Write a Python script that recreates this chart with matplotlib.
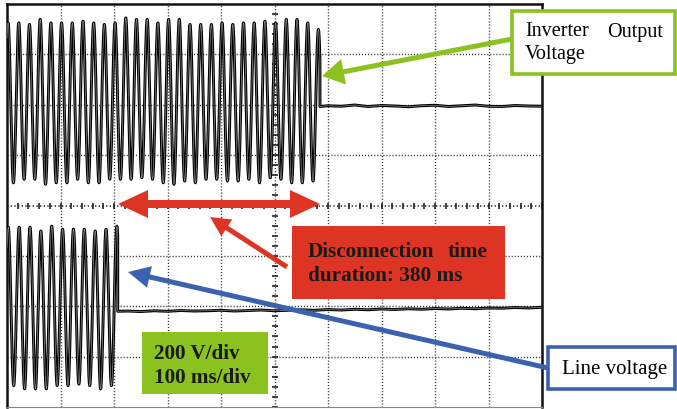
import numpy as np
import matplotlib.pyplot as plt
from matplotlib.patches import Rectangle

# scope screen: 10 div x 100 ms, 8 div x 200 V
time_div = 100
volt_div = 200

# upper trace: inverter output voltage, peak values (V) read per cycle
inv_offset = 400
inv_first_peak = 2.0
inv_period = 20.0
inv_pos_peaks = [325, 325, 319, 339, 325, 325, 325, 332, 325, 319, 325, 345, 339, 339, 325,
                 339, 339, 319, 319, 319, 325, 319, 325, 325, 332, 325, 339, 339, 325, 299]
inv_neg_peaks = [310, 296, 296, 316, 310, 310, 296, 310, 310, 296, 296, 296, 290, 296, 310,
                 316, 303, 310, 296, 296, 303, 303, 296, 310, 290, 296, 310, 310, 303]
inv_cut = 585
inv_rest_t = [585, 600, 625, 650, 675, 700, 725, 750, 775, 800, 825, 850, 875, 900, 925, 950, 975, 1000]
inv_rest_v = [393, 396, 394, 399, 393, 397, 395, 392, 396, 398, 393, 396, 399, 394, 393, 397, 395, 394]

# lower trace: line voltage
line_offset = -405
line_first_peak = 2.4
line_period = 20.3
line_pos_peaks = [319, 319, 319, 304, 323, 311, 311, 311, 304, 311, 323]
line_neg_peaks = [310, 323, 323, 323, 310, 310, 304, 310, 323, 310]
line_cut = 207
line_rest_t = [207, 225, 250, 275, 300, 325, 350, 375, 400, 425, 450, 475, 500, 525, 550, 575, 600,
               625, 650, 675, 700, 725, 750, 775, 800, 825, 850, 875, 900, 925, 950, 975, 1000]
line_rest_v = [-420, -419, -421, -418, -420, -417, -419, -418, -416, -419, -417, -415, -418, -416,
               -414, -416, -413, -415, -412, -414, -411, -413, -410, -412, -409, -411, -408, -410,
               -407, -408, -405, -407, -404]


def sine_trace(first_peak, period, pos_peaks, neg_peaks, t_cut, offset):
    # half-cycle by half-cycle, each scaled to the peak
    half = period / 2
    t = np.arange(0, t_cut, 0.05)
    ph = (t - first_peak + period / 4) / half
    k = np.floor(ph).astype(int)
    frac = ph - k
    pos = np.take(pos_peaks, np.clip(k // 2, 0, len(pos_peaks) - 1))
    neg = np.take(neg_peaks, np.clip(k // 2, 0, len(neg_peaks) - 1))
    amp = np.where(k % 2 == 0, pos, -neg)
    return t, offset + amp * np.sin(np.pi * frac)


fig = plt.figure(figsize=(6.77, 4.10), dpi=100)
ax = fig.add_axes([7 / 677, 2 / 410, 535 / 677, 403 / 410])
ax.set_xlim(0, 10 * time_div)
ax.set_ylim(-4 * volt_div, 4 * volt_div)
ax.set_xticks([])
ax.set_yticks([])
for s in ['left', 'top', 'right']:
    ax.spines[s].set_linewidth(1.8)
    ax.spines[s].set_color('#111111')
ax.spines['bottom'].set_color('#888888')

#grid
dot = (0, (0.8, 1.4))
for i in range(1, 10):
    ax.axvline(i * time_div, color='#333333', lw=1.0, ls=dot, zorder=1)
for j in range(-3, 4):
    ax.axhline(j * volt_div, color='#333333', lw=1.2 if j == 0 else 1.0, ls=dot, zorder=1)
ax.plot(np.arange(0, 1001, 20), np.zeros(51), ls='none', marker='|', ms=4.5, mew=1.2, color='#222222', zorder=1)
ax.plot(np.full(41, 500), np.arange(-800, 801, 40), ls='none', marker='_', ms=4.5, mew=1.2, color='#222222', zorder=1)

#traces
t1, v1 = sine_trace(inv_first_peak, inv_period, inv_pos_peaks, inv_neg_peaks, inv_cut, inv_offset)
t1 = np.concatenate([t1, inv_rest_t])
v1 = np.concatenate([v1, inv_rest_v])
t2, v2 = sine_trace(line_first_peak, line_period, line_pos_peaks, line_neg_peaks, line_cut, line_offset)
t2 = np.concatenate([t2, line_rest_t])
v2 = np.concatenate([v2, line_rest_v])
for t, v in [(t1, v1), (t2, v2)]:
    ax.plot(t, v, color='black', lw=2.1, zorder=3)
    ax.plot(t, v, color='#8a8a8a', lw=0.5, zorder=3)

#annotations in pixel coordinates
green = '#8cc220'
red = '#de3424'
blue = '#3a62b0'
serif = ['Liberation Serif', 'DejaVu Serif']

ov = fig.add_axes([0, 0, 1, 1])
ov.set_xlim(0, 677)
ov.set_ylim(410, 0)
ov.axis('off')

ov.add_patch(Rectangle((512, 12), 163, 63, facecolor='white', edgecolor=green, lw=2.6))
ov.text(525, 32, 'Inverter', fontsize=14.5, family=serif, va='center', ha='left')
ov.text(663, 32, 'Output', fontsize=14.5, family=serif, va='center', ha='right')
ov.text(525, 55, 'Voltage', fontsize=14.5, family=serif, va='center', ha='left')
ov.arrow(512, 40, -190, 37, width=5, head_width=26, head_length=22, length_includes_head=True, color=green, lw=0)

ov.arrow(219, 205, -101, 0, width=8, head_width=28, head_length=30, length_includes_head=True, color=red, lw=0)
ov.arrow(219, 205, 101, 0, width=8, head_width=28, head_length=30, length_includes_head=True, color=red, lw=0)
ov.arrow(287, 268, -77, -50, width=5, head_width=20, head_length=20, length_includes_head=True, color=red, lw=0)

ov.add_patch(Rectangle((292, 227), 213, 73, facecolor=red, edgecolor='none'))
ov.text(308, 252, 'Disconnection', fontsize=15.3, family=serif, weight='bold', va='center', ha='left', color='#1a1a1a')
ov.text(488, 252, 'time', fontsize=15.3, family=serif, weight='bold', va='center', ha='right', color='#1a1a1a')
ov.text(308, 276, 'duration: 380 ms', fontsize=15.3, family=serif, weight='bold', va='center', ha='left', color='#1a1a1a')

ov.add_patch(Rectangle((142, 333), 126, 62, facecolor=green, edgecolor='none'))
ov.text(154, 354, '200 V/div', fontsize=15.2, family=serif, weight='bold', va='center', ha='left', color='#1a1a1a')
ov.text(154, 378, '100 ms/div', fontsize=15.2, family=serif, weight='bold', va='center', ha='left', color='#1a1a1a')

ov.arrow(548, 369, -420, -96, width=5, head_width=22, head_length=22, length_includes_head=True, color=blue, lw=0)
ov.add_patch(Rectangle((548, 348), 127, 42, facecolor='white', edgecolor=blue, lw=2.6))
ov.text(562, 370, 'Line voltage', fontsize=15, family=serif, va='center', ha='left')

fig.savefig('out.png', dpi=100)
